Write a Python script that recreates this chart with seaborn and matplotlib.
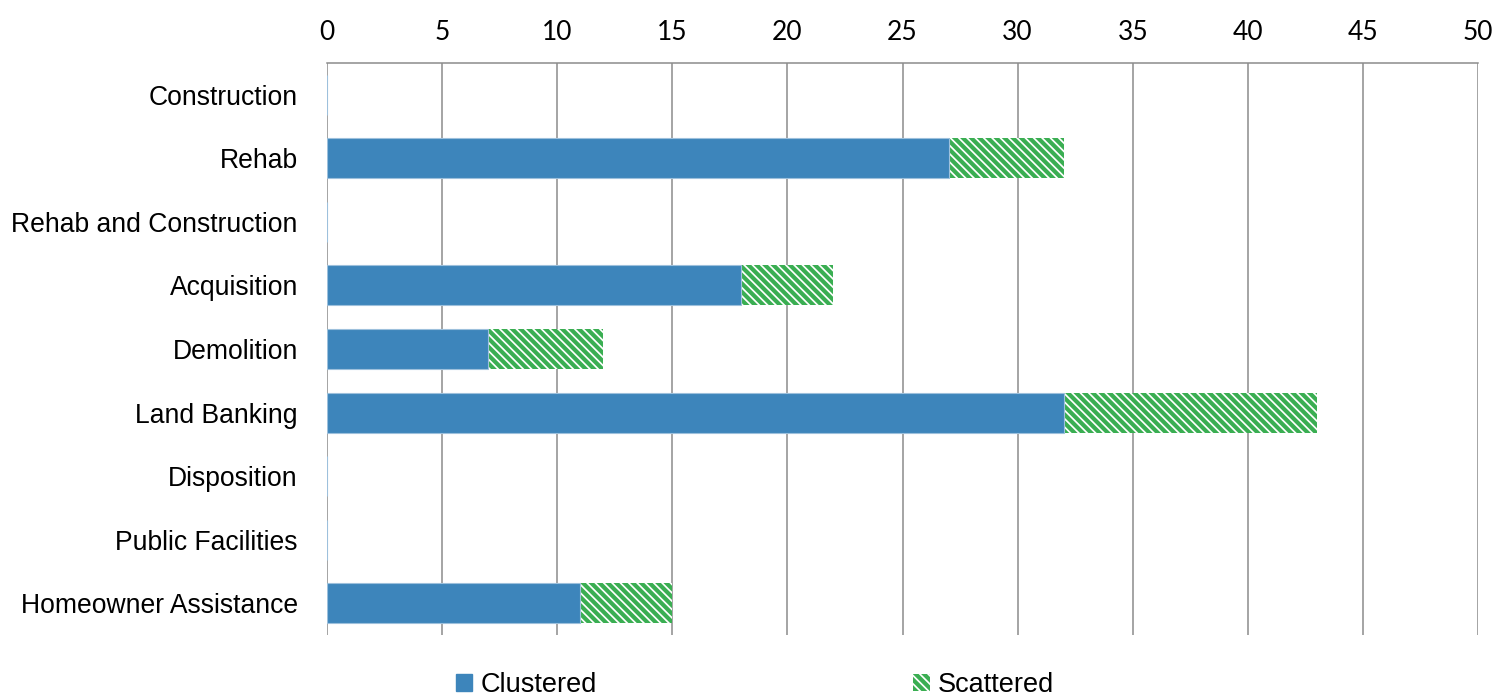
import matplotlib
matplotlib.use("Agg")
import matplotlib.pyplot as plt
import seaborn as sns
import pandas as pd
from matplotlib.patches import Patch

categories = ["Construction", "Rehab", "Rehab and Construction", "Acquisition",
              "Demolition", "Land Banking", "Disposition", "Public Facilities",
              "Homeowner Assistance"]
clustered = [0, 27, 0, 18, 7, 32, 0, 0, 11]
scattered = [0, 5, 0, 4, 5, 11, 0, 0, 4]
xticks = [0, 5, 10, 15, 20, 25, 30, 35, 40, 45, 50]

BLUE = "#3d85bb"
GREEN = "#3aae52"

sns.set_style("white")
plt.rcParams["font.family"] = ["Liberation Sans", "DejaVu Sans"]
plt.rcParams["hatch.linewidth"] = 3.0
plt.rcParams["text.color"] = "black"
plt.rcParams["xtick.color"] = "black"
plt.rcParams["ytick.color"] = "black"

df = pd.DataFrame({"category": categories,
                   "clustered": clustered,
                   "total": [c + s for c, s in zip(clustered, scattered)]})

fig = plt.figure(figsize=(14.98, 7.0), dpi=100)
ax = fig.add_axes([327/1498, 1 - 635/700, (1478-327)/1498, (635-63)/700])

sns.barplot(data=df, y="category", x="total", order=categories, orient="h",
            color="white", width=0.63, ax=ax, zorder=3)
for p in ax.patches:
    p.set_facecolor("white")
    p.set_edgecolor(GREEN)
    p.set_hatch("\\\\\\\\")
    p.set_linewidth(0)
n_prev = len(ax.patches)
sns.barplot(data=df, y="category", x="clustered", order=categories, orient="h",
            color=BLUE, width=0.63, ax=ax, zorder=4, saturation=1)
for p in ax.patches[n_prev:]:
    p.set_facecolor(BLUE)
    p.set_edgecolor("#9dc0dc")
    p.set_linewidth(0.8)

ax.set_xlim(0, 50)
ax.set_ylim(8.5, -0.5)
ax.set_xticks(xticks)
ax.set_xticklabels([str(t) for t in xticks], fontsize=19, family=["Lato", "DejaVu Sans"],
                   color="black")
ax.xaxis.tick_top()
ax.tick_params(axis="x", length=0, pad=13, labelcolor="black")
ax.tick_params(axis="y", length=0, pad=21, labelsize=19.1, labelcolor="black")
ax.set_xlabel("")
ax.set_ylabel("")
ax.grid(axis="x", color="#8c8c8c", linewidth=1.1, zorder=0)
ax.set_axisbelow(True)
for s in ["left", "right", "bottom"]:
    ax.spines[s].set_visible(False)
ax.spines["top"].set_color("#8c8c8c")
ax.spines["top"].set_linewidth(1.1)

handles = [Patch(facecolor=BLUE, edgecolor=BLUE, label="Clustered"),
           Patch(facecolor="white", edgecolor=GREEN, hatch="\\\\\\\\", linewidth=0, label="Scattered")]
fig.legend(handles=handles, loc="lower center", bbox_to_anchor=(0.504, -0.032), ncol=2,
           frameon=False, fontsize=19.5, handlelength=0.6, handleheight=0.6,
           handletextpad=0.3, columnspacing=11.7, labelcolor="black")

fig.savefig("out.png", dpi=100)
